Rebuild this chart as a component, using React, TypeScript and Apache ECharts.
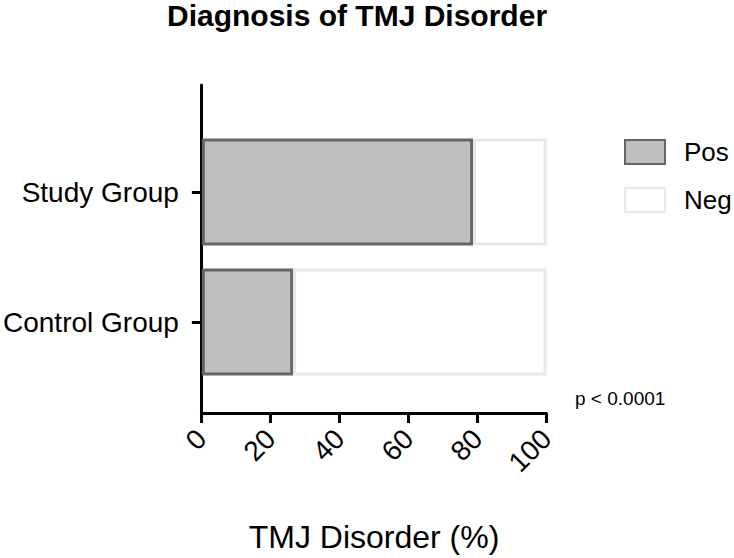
import React, { useEffect, useRef } from "react";
import * as echarts from "echarts";

const categories = ["Control Group", "Study Group"];
const posValues = [26.5, 78.7];
const negValues = [73.5, 21.3];
const xTicks = [0, 20, 40, 60, 80, 100];
const seriesNames = ["Pos", "Neg"];

const FONT = "Liberation Sans, Arial, Helvetica, sans-serif";

export default function App() {
  const ref = useRef<HTMLDivElement>(null);
  useEffect(() => {
    if (!ref.current) return;
    const chart = echarts.init(ref.current, null, { renderer: "svg" });
    const left = 201.5;
    const right = 734 - 546.5;
    chart.setOption({
      animation: false,
      backgroundColor: "#ffffff",
      textStyle: { fontFamily: FONT, color: "#000" },
      title: {
        text: "Diagnosis of TMJ Disorder",
        left: 167,
        top: 0,
        padding: 0,
        textStyle: { fontFamily: FONT, fontSize: 30, fontWeight: "bold", color: "#000" },
      },
      legend: {
        data: seriesNames,
        orient: "vertical",
        left: 624,
        top: 139,
        icon: "rect",
        itemWidth: 40,
        itemHeight: 24,
        itemGap: 22,
        padding: 0,
        textStyle: { fontFamily: FONT, fontSize: 26, color: "#000", padding: [0, 0, 0, 14] },
      },
      grid: [
        { left, right, top: 127, height: 260 },
        { left, right, top: 85, bottom: 129 },
      ],
      xAxis: [
        { gridIndex: 0, type: "value", min: 0, max: 100, show: false },
        {
          gridIndex: 1,
          type: "value",
          min: xTicks[0],
          max: xTicks[xTicks.length - 1],
          interval: xTicks[1] - xTicks[0],
          axisLine: { show: true, lineStyle: { color: "#000", width: 3 } },
          axisTick: { show: true, length: 10, lineStyle: { color: "#000", width: 3 } },
          axisLabel: { rotate: 45, fontSize: 28, color: "#000", margin: 21, fontFamily: FONT },
          splitLine: { show: false },
          name: "TMJ Disorder (%)",
          nameLocation: "middle",
          nameGap: 108,
          nameTextStyle: { fontSize: 32, color: "#000", fontFamily: FONT },
        },
      ],
      yAxis: [
        {
          gridIndex: 0,
          type: "category",
          data: categories,
          axisLine: { show: false },
          axisTick: { show: true, alignWithLabel: true, length: 10, lineStyle: { color: "#000", width: 3 } },
          axisLabel: { fontSize: 28, color: "#000", margin: 23, fontFamily: FONT },
        },
        {
          gridIndex: 1,
          type: "value",
          min: 0,
          max: 1,
          axisLine: { show: true, lineStyle: { color: "#000", width: 3 } },
          axisTick: { show: false },
          axisLabel: { show: false },
          splitLine: { show: false },
        },
      ],
      series: [
        {
          name: seriesNames[0],
          type: "bar",
          stack: "total",
          xAxisIndex: 0,
          yAxisIndex: 0,
          barWidth: 107,
          data: posValues,
          itemStyle: { color: "#bfbfbf", borderColor: "#666666", borderWidth: 3 },
        },
        {
          name: seriesNames[1],
          type: "bar",
          stack: "total",
          xAxisIndex: 0,
          yAxisIndex: 0,
          barWidth: 107,
          data: negValues,
          itemStyle: { color: "#ffffff", borderColor: "#e8e8e8", borderWidth: 3 },
        },
      ],
      graphic: [
        {
          type: "text",
          left: 575,
          top: 389,
          style: { text: "p < 0.0001", fontSize: 19, fill: "#000", fontFamily: FONT },
        },
      ],
    });
    return () => chart.dispose();
  }, []);
  return <div ref={ref} style={{ position: "fixed", left: 0, top: 0, width: 734, height: 558 }} />;
}
